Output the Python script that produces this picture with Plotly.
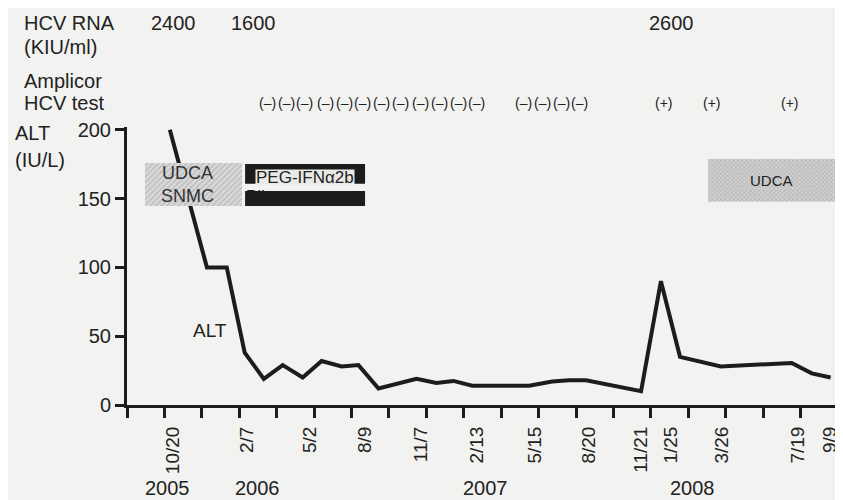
import plotly.graph_objects as go

# ---------------- data ----------------
# x in months from the start of the time axis, ALT in IU/L
alt_month = [2.29, 4.27, 5.33, 6.29, 7.31, 8.32, 9.39, 10.4, 11.47, 12.37, 13.44,
             15.47, 16.53, 17.44, 18.45, 21.49, 22.72, 23.63, 24.53, 27.47, 28.53,
             29.55, 31.73, 35.52, 36.59, 37.6]
alt_value = [200, 100, 100, 38, 19, 29, 20, 32, 28, 29, 12,
             19, 16, 17.5, 14, 14, 17, 18, 18, 10, 90,
             35, 28, 30.5, 23, 20]

date_pos = [2.45, 6.4, 9.76, 12.69, 15.7, 18.67, 21.8, 24.7, 27.47, 29.07, 31.8, 35.85, 37.55]
date_text = ["10/20", "2/7", "5/2", "8/9", "11/7", "2/13", "5/15", "8/20", "11/21",
             "1/25", "3/26", "7/19", "9/9"]

year_pos = [2.19, 6.99, 19.15, 30.24]
year_text = ["2005", "2006", "2007", "2008"]

rna_pos = [2.5, 6.77, 29.1]
rna_text = ["2400", "1600", "2600"]

amp_pos = [7.5, 8.5, 9.5, 10.6, 11.6, 12.6, 13.6, 14.6, 15.7, 16.7, 17.7, 18.7,
           21.2, 22.2, 23.2, 24.2, 28.7, 31.27, 35.43]
amp_text = ["(–)"] * 16 + ["(+)"] * 3

therapy_name = ["UDCA<br>SNMC", "PEG-IFNα2b", "Rib", "UDCA"]
therapy_start = [0.96, 6.31, 6.31, 31.05]
therapy_end = [6.15, 12.72, 12.72, 38.3]
therapy_top = [175.9, 175.2, 155.5, 178.8]
therapy_bottom = [144.6, 160.7, 144.6, 147.7]

# ---------------- styling ----------------
INK = "#1c1c1c"
TXT = "#222222"
BG = "#f2f2f0"
FONT = "Liberation Sans, Arial, sans-serif"

therapy_style = [
    dict(color="#d4d4d4", pattern=dict(shape="/", fgcolor="#8a8a8a", bgcolor="#d8d8d8", size=4, solidity=0.25)),
    dict(color=INK),
    dict(color=INK),
    dict(color="#c8c8c8", pattern=dict(shape="x", fgcolor="#8a8a8a", bgcolor="#d0d0d0", size=3, solidity=0.35)),
]

fig = go.Figure()

# ALT line (base subplot)
fig.add_trace(go.Scatter(x=alt_month, y=alt_value, mode="lines",
                         line=dict(color=INK, width=4), hoverinfo="skip", showlegend=False))

# "Rib" label partly hidden under its bar
fig.add_trace(go.Scatter(x=[therapy_start[2] + 0.05], y=[therapy_top[2] - 5.0], mode="text",
                         text=["Rib"], textposition="middle right",
                         textfont=dict(size=16, color=TXT, family=FONT),
                         hoverinfo="skip", showlegend=False))

# therapy boxes (overlay subplot, drawn above the line)
for i, name in enumerate(therapy_name):
    fig.add_trace(go.Bar(
        x=[therapy_end[i] - therapy_start[i]], base=[therapy_start[i]],
        y=[(therapy_top[i] + therapy_bottom[i]) / 2],
        width=[therapy_top[i] - therapy_bottom[i]],
        orientation="h", xaxis="x2", yaxis="y2",
        marker=dict(line=dict(width=0), **therapy_style[i]),
        hoverinfo="skip", showlegend=False))

ann = []
# box texts
ann.append(dict(x=(therapy_start[0] + therapy_end[0]) / 2 - 0.3, y=(therapy_top[0] + therapy_bottom[0]) / 2,
                xref="x", yref="y", text=therapy_name[0], showarrow=False,
                xanchor="center", yanchor="middle",
                font=dict(size=18, color="#333", family=FONT)))
ann.append(dict(x=(therapy_start[1] + therapy_end[1]) / 2, y=therapy_bottom[1] + 5.0,
                xref="x", yref="y", text=therapy_name[1], showarrow=False,
                xanchor="center", yanchor="middle",
                bgcolor="#e9e9e7", borderpad=0, height=14, valign="middle",
                font=dict(size=17, color=TXT, family=FONT)))
ann.append(dict(x=(therapy_start[3] + therapy_end[3]) / 2 - 0.25, y=(therapy_top[3] + therapy_bottom[3]) / 2,
                xref="x", yref="y", text=therapy_name[3], showarrow=False,
                xanchor="center", yanchor="middle",
                font=dict(size=15, color=TXT, family=FONT)))
# ALT line label
ann.append(dict(x=4.45, y=54.5, xref="x", yref="y", text="ALT", showarrow=False,
                xanchor="center", yanchor="middle",
                font=dict(size=19, color=TXT, family=FONT)))

# left header texts
def left(text, y, x=-0.147):
    return dict(x=x, y=y, xref="paper", yref="paper", xanchor="left", yanchor="middle",
                text=text, showarrow=False, font=dict(size=20, color=TXT, family=FONT))

ann += [left("HCV RNA", 1.374), left("(KIU/ml)", 1.288), left("Amplicor", 1.165),
        left("HCV test", 1.086), left("ALT", 0.978, -0.16), left("(IU/L)", 0.881, -0.16)]

def at_x(p, t, y, size):
    return dict(x=p, y=y, xref="x", yref="paper", text=t, showarrow=False,
                xanchor="center", yanchor="middle",
                font=dict(size=size, color=TXT, family=FONT))

for p, t in zip(rna_pos, rna_text):
    ann.append(at_x(p, t, 1.374, 20))
for p, t in zip(amp_pos, amp_text):
    ann.append(at_x(p, t, 1.086, 14))
for p, t in zip(year_pos, year_text):
    ann.append(at_x(p, t, -0.299, 20))

XR = [0, 38.1]
YR = [0, 202]

fig.update_layout(
    width=835, height=492,
    margin=dict(l=119, r=3, t=119, b=95),
    paper_bgcolor=BG, plot_bgcolor=BG,
    barmode="overlay",
    font=dict(family=FONT, color=TXT),
    showlegend=False,
    annotations=ann,
    xaxis=dict(range=XR, tick0=0, dtick=2, ticks="outside", ticklen=10, tickwidth=3,
               tickcolor=INK, showticklabels=False, showline=True, linewidth=3,
               linecolor=INK, showgrid=False, zeroline=False, fixedrange=True),
    xaxis2=dict(range=XR, overlaying="x", side="bottom", tickmode="array",
                tickvals=date_pos, ticktext=date_text, tickangle=-90,
                ticks="outside", ticklen=13, tickcolor="rgba(0,0,0,0)",
                tickfont=dict(size=19, color=TXT, family=FONT),
                showline=False, showgrid=False, zeroline=False),
    yaxis=dict(range=YR, tickmode="array", tickvals=[0, 50, 100, 150, 200],
               ticks="outside", ticklen=9, tickwidth=3, tickcolor=INK,
               tickfont=dict(size=20, color=TXT, family=FONT),
               showline=True, linewidth=3, linecolor=INK,
               showgrid=False, zeroline=False),
    yaxis2=dict(range=YR, overlaying="y", visible=False, showgrid=False, zeroline=False),
)

fig.write_html("out.html")
